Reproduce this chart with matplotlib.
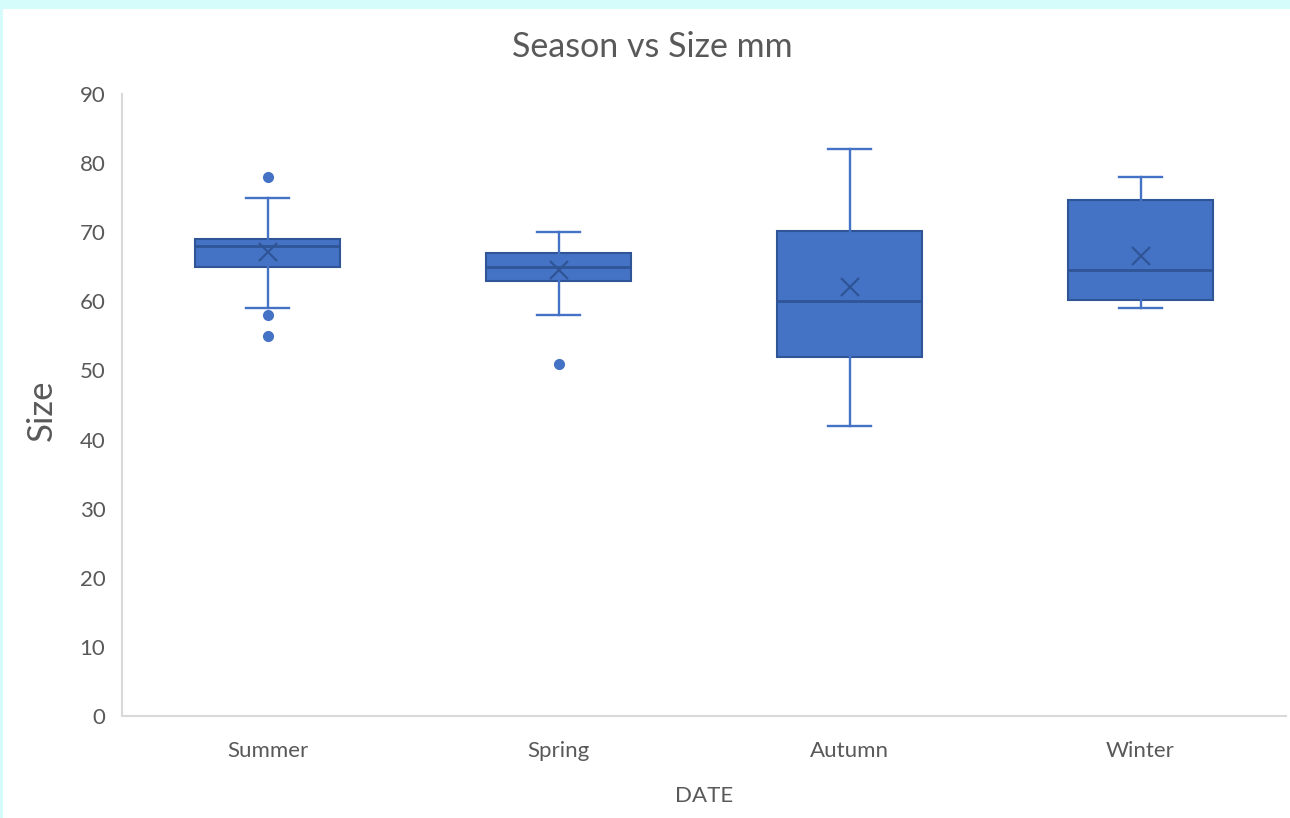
import matplotlib.pyplot as plt
from matplotlib.patches import Rectangle

# box plot summary per season
seasons = ['Summer', 'Spring', 'Autumn', 'Winter']
whisker_low = [59, 58, 42, 59]
q1 = [65, 63, 52, 60.2]
median = [68, 65, 60, 64.5]
q3 = [69, 67, 70.2, 74.7]
whisker_high = [75, 70, 82, 78]
mean = [67.1, 64.6, 62.1, 66.5]
outliers = [[78, 58, 55], [51], [], []]

fill = '#4472C4'
edge = '#2F5597'
txt = '#595959'

plt.rcParams['font.family'] = ['Lato', 'DejaVu Sans']

fig = plt.figure(figsize=(12.9, 8.18), dpi=100)
fig.patch.set_facecolor('#D5FBFB')
fig.patches.append(Rectangle((3 / 1290, 0), 1, 1 - 9 / 818, transform=fig.transFigure,
                             facecolor='white', edgecolor='none', zorder=-1))

ax = fig.add_axes([122 / 1290, 1 - 716 / 818, 1164 / 1290, 622 / 818])
ax.set_facecolor('none')
ax.set_zorder(2)

stats = []
for i, s in enumerate(seasons):
    stats.append(dict(label=s, whislo=whisker_low[i], q1=q1[i], med=median[i],
                      q3=q3[i], whishi=whisker_high[i], mean=mean[i], fliers=outliers[i]))

ax.bxp(stats, positions=range(len(seasons)), widths=0.5, capwidths=0.15,
       patch_artist=True, showmeans=True,
       boxprops=dict(facecolor=fill, edgecolor=edge, linewidth=1.5),
       medianprops=dict(color=edge, linewidth=2),
       whiskerprops=dict(color=fill, linewidth=1.7),
       capprops=dict(color=fill, linewidth=1.7),
       meanprops=dict(marker='x', markeredgecolor=edge, markersize=13, markeredgewidth=1.6),
       flierprops=dict(marker='o', markerfacecolor=fill, markeredgecolor=fill, markersize=7))

ax.set_xlim(-0.5, 3.5)
ax.set_ylim(0, 90)
ax.set_yticks(range(0, 91, 10))
ax.set_xticks(range(len(seasons)))
ax.set_xticklabels(seasons)
ax.tick_params(length=0, labelsize=16, colors=txt)
ax.tick_params(axis='x', pad=18)
ax.tick_params(axis='y', pad=12)

for side in ['top', 'right']:
    ax.spines[side].set_visible(False)
for side in ['left', 'bottom']:
    ax.spines[side].set_color('#D9D9D9')
    ax.spines[side].set_linewidth(1.5)

fig.text(652 / 1290, 1 - 47 / 818, 'Season vs Size mm', ha='center', va='center',
         fontsize=24.5, color=txt)
fig.text(42 / 1290, 1 - 410 / 818, 'Size', ha='center', va='center', rotation=90,
         fontsize=25, color=txt)
fig.text(704 / 1290, 1 - 796 / 818, 'DATE', ha='center', va='center',
         fontsize=16, color=txt)

fig.savefig('out.png', dpi=100)
